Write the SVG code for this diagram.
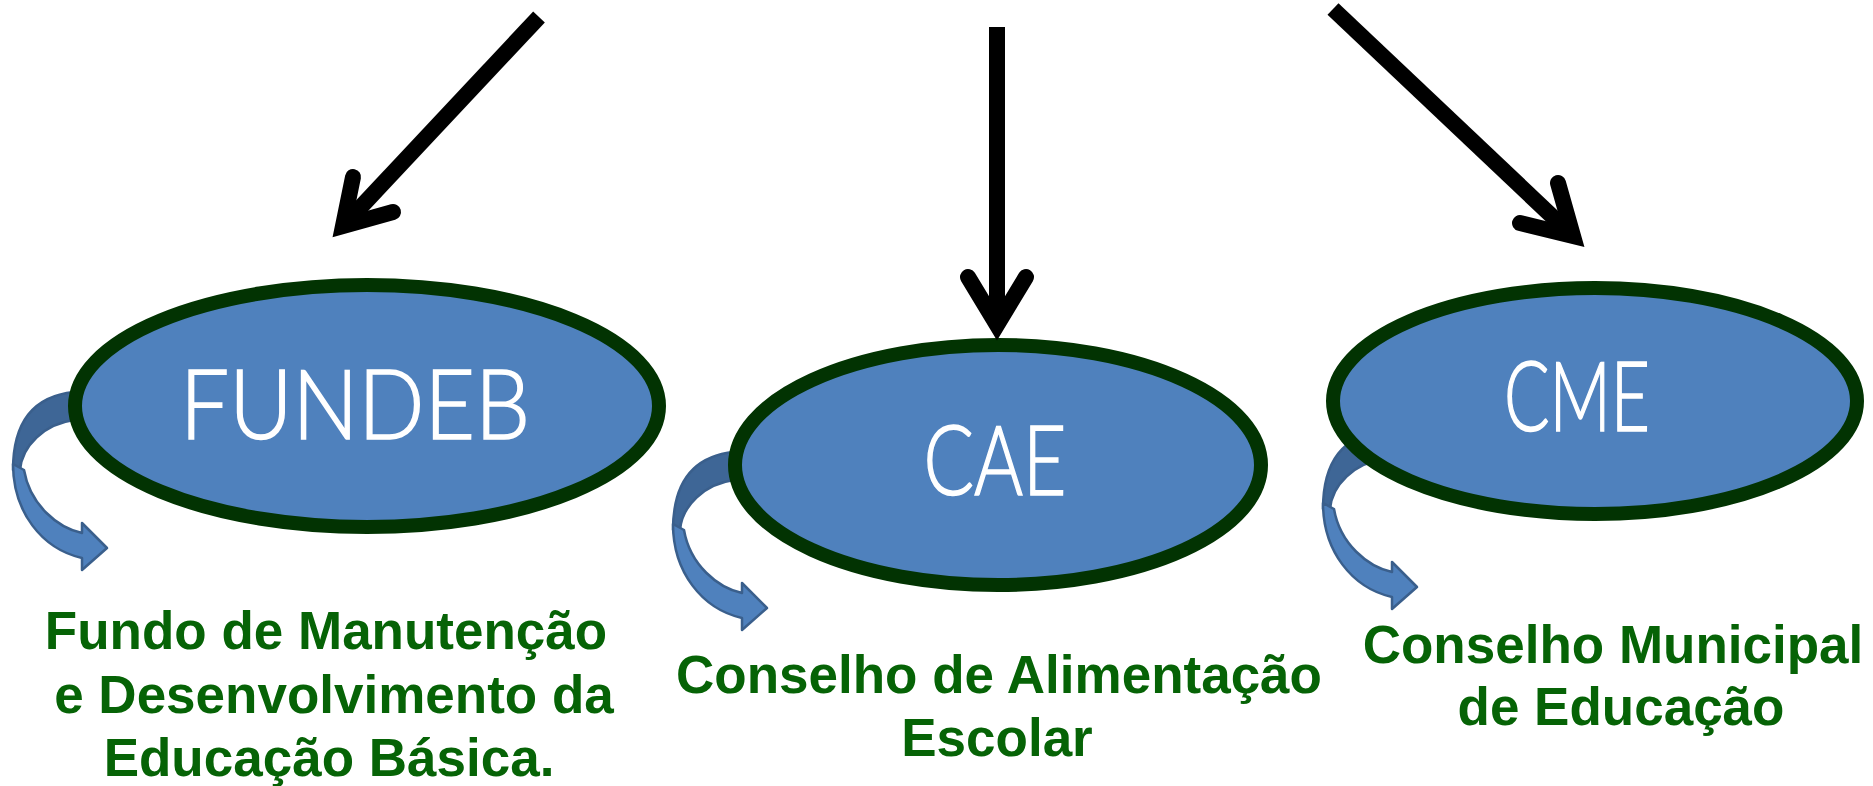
<svg xmlns="http://www.w3.org/2000/svg" width="1873" height="786" viewBox="0 0 1873 786">
  <style>
    .ell { fill: #4f81bd; stroke: #023302; stroke-width: 14; }
    .title { font-family: "Lato", "Liberation Sans", sans-serif; font-weight: 300; font-size: 96px; fill: #ffffff; stroke: #ffffff; stroke-width: 1.6; text-anchor: middle; }
    .label { font-family: "Liberation Sans", Arial, sans-serif; font-weight: bold; font-size: 53px; fill: #066306; text-anchor: middle; }
    .back { fill: #3e6696; stroke: #3a5f8c; stroke-width: 2.5; stroke-linejoin: round; }
    .front { fill: #4f81bd; stroke: #3a5f8c; stroke-width: 2.5; stroke-linejoin: round; }
    .shaft { stroke: #000; stroke-width: 16; fill: none; stroke-linecap: butt; }
    .head { stroke: #000; stroke-width: 16; fill: none; stroke-linecap: round; stroke-linejoin: miter; stroke-miterlimit: 10; }
  </style>
  <defs>
    <g id="curl">
      <path class="back" d="M 74 392 C 35 396 13 420 13 470 L 20 470 C 22 446 44 424 74 420 Z"/>
      <path class="front" d="M 13 464 C 13 512 42 549 82 558 L 82 570 L 107 548 L 82 523 L 82 533 C 58 528 30 505 24 470 Z"/>
    </g>
  </defs>
  <rect width="1873" height="786" fill="#ffffff"/>

  <g id="fundeb">
    <use href="#curl"/>
    <ellipse class="ell" cx="367" cy="406" rx="292" ry="121"/>
    <text class="title" x="355" y="439" textLength="350" lengthAdjust="spacingAndGlyphs">FUNDEB</text>
    <text class="label" x="326" y="649">Fundo de Manutenção</text>
    <text class="label" x="334" y="713">e Desenvolvimento da</text>
    <text class="label" x="329" y="776">Educação Básica.</text>
  </g>

  <g id="cae">
    <use href="#curl" transform="translate(660,60)"/>
    <ellipse class="ell" cx="998" cy="465" rx="263" ry="120"/>
    <text class="title" x="995" y="495" textLength="143" lengthAdjust="spacingAndGlyphs">CAE</text>
    <text class="label" x="999" y="693">Conselho de Alimentação</text>
    <text class="label" x="997" y="756">Escolar</text>
  </g>

  <g id="cme">
    <use href="#curl" transform="translate(1310,39)"/>
    <ellipse class="ell" cx="1595" cy="401" rx="262" ry="113"/>
    <text class="title" x="1577" y="431" textLength="146" lengthAdjust="spacingAndGlyphs">CME</text>
    <text class="label" x="1613" y="663">Conselho Municipal</text>
    <text class="label" x="1621" y="725">de Educação</text>
  </g>

  <g id="connectors">
    <line class="shaft" x1="539" y1="17" x2="343" y2="226"/>
    <polyline class="head" points="353,177 343,226 393,212"/>
    <line class="shaft" x1="997" y1="27" x2="997" y2="325"/>
    <polyline class="head" points="968,277 997,325 1026,277"/>
    <line class="shaft" x1="1333" y1="9" x2="1573" y2="236"/>
    <polyline class="head" points="1558,183 1573,236 1520,223"/>
  </g>
</svg>
